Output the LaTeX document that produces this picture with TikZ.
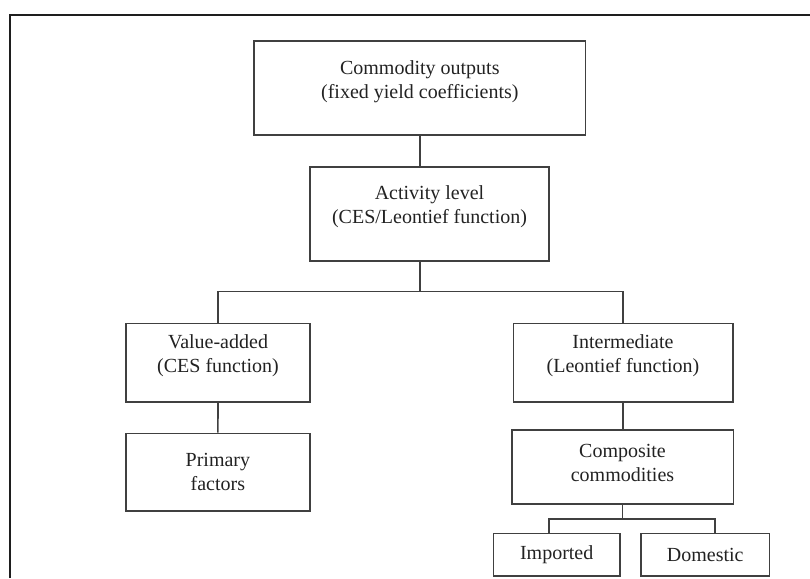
\documentclass[tikz,border=0pt]{standalone}
\usepackage{fontspec}
\setmainfont{Liberation Serif}
\begin{document}
\begin{tikzpicture}[x=1pt,y=-1pt,
  box/.style={draw=boxline, line width=1.6pt, rectangle, inner sep=0pt},
  txt/.style={align=center, text=textcol, inner sep=0pt,
    font=\fontsize{20}{24}\selectfont},
  link/.style={draw=boxline, line width=1.6pt}]
\definecolor{boxline}{HTML}{404040}
\definecolor{textcol}{HTML}{222222}
\definecolor{frameline}{HTML}{1E1E1E}
\useasboundingbox (0,0) rectangle (810,578);

% outer frame (only its top and left edges lie on the page)
\draw[frameline, line width=1.3pt] (10,578) -- (10,15) -- (810,15);

% boxes
\node[box, minimum width=331.7pt, minimum height=94pt] (top) at (419.8,88) {};
\node[box, minimum width=239pt, minimum height=94pt] (act) at (429.5,213.7) {};
\node[box, minimum width=184pt, minimum height=78.4pt] (va) at (218,362.5) {};
\node[box, minimum width=184.3pt, minimum height=77.7pt] (prim) at (217.9,472.2) {};
\node[box, minimum width=219.4pt, minimum height=78.4pt] (int) at (623,362.5) {};
\node[box, minimum width=221.6pt, minimum height=73.7pt] (comp) at (622.5,466.9) {};
\node[box, minimum width=126.7pt, minimum height=42.7pt] (imp) at (556.7,554.7) {};
\node[box, minimum width=128.3pt, minimum height=42.7pt] (dom) at (705.2,554.7) {};

% labels
\node[txt] (toptxt) at ([yshift=6.5pt]top.center) {Commodity outputs\\(fixed yield coefficients)};
\node[txt] (acttxt) at ([yshift=6.7pt]act.center) {Activity level\\(CES/Leontief function)};
\node[txt] (vatxt) at ([yshift=6.7pt]va.center) {Value-added\\(CES function)};
\node[txt] (primtxt) at (prim.center) {Primary\\factors};
\node[txt] (inttxt) at ([yshift=6.7pt]int.center) {Intermediate\\(Leontief function)};
\node[txt] (comptxt) at ([yshift=4pt]comp.center) {Composite\\commodities};
\node[txt] (imptxt) at (imp.center) {Imported};
\node[txt] (domtxt) at (dom.center) {Domestic};

% junctions
\coordinate (j1) at (420,291.5);
\coordinate (j2) at (622.4,519);
\coordinate (j3) at (548.7,519);
\coordinate (j4) at (714.7,519);

% connectors
\draw[link] (top.south) -- (top.south |- act.north);
\draw[link] (j1 |- act.south) -- (j1);
\draw[link] (va.north) |- (j1) -| (int.north);
\draw[link] (va.south) -- (prim.north);
\draw[link] (int.south) -- (int.south |- comp.north);
\draw[link] (j2 |- comp.south) -- (j2);
\draw[link] (j3 |- imp.north) -- (j3) -- (j4) -- (j4 |- dom.north);
\end{tikzpicture}
\end{document}
